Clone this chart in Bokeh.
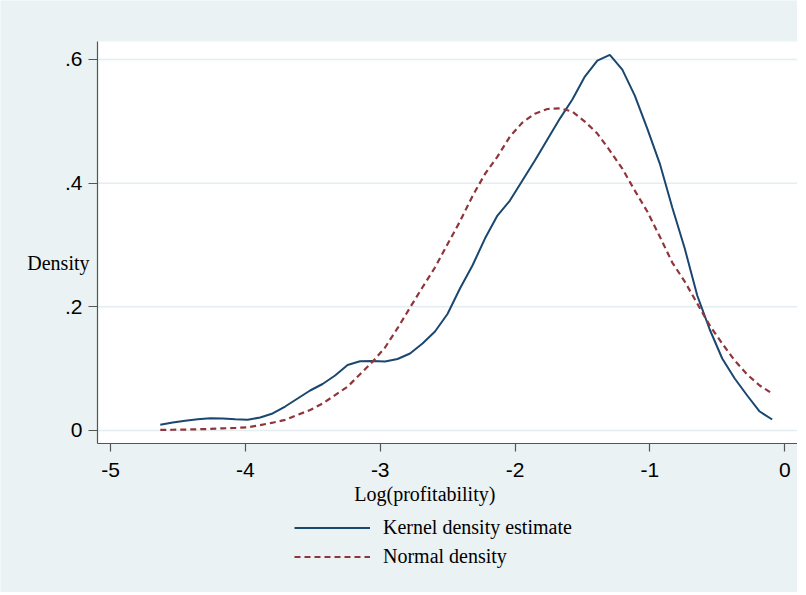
from bokeh.plotting import figure
from bokeh.models import Range1d, Legend, LegendItem, FixedTicker, Label, BoxAnnotation
from bokeh.embed import file_html
from bokeh.resources import INLINE

# Grid of 50 evaluation points (log profitability)
x_start = -4.631
x_step = 0.0926
x_vals = [round(x_start + x_step * i, 4) for i in range(50)]

kernel_density = [
    0.0092, 0.0129, 0.0157, 0.0181, 0.0197, 0.0194, 0.0181, 0.0173, 0.0210, 0.0275,
    0.0388, 0.0517, 0.0647, 0.0752, 0.0889, 0.1059, 0.1120, 0.1124, 0.1116, 0.1156,
    0.1245, 0.1407, 0.1601, 0.1884, 0.2296, 0.2668, 0.3104, 0.3476, 0.3719, 0.4042,
    0.4365, 0.4705, 0.5044, 0.5352, 0.5724, 0.5982, 0.6074, 0.5837, 0.5416, 0.4883,
    0.4317, 0.3606, 0.2943, 0.2183, 0.1633, 0.1164, 0.0841, 0.0566, 0.0307, 0.0178,
]

normal_density = [
    0.0010, 0.0012, 0.0015, 0.0020, 0.0025, 0.0035, 0.0040, 0.0052, 0.0086, 0.0126,
    0.0172, 0.0252, 0.0331, 0.0436, 0.0573, 0.0708, 0.0910, 0.1112, 0.1342, 0.1654,
    0.1987, 0.2317, 0.2636, 0.3013, 0.3382, 0.3790, 0.4148, 0.4430, 0.4753, 0.4980,
    0.5124, 0.5199, 0.5211, 0.5158, 0.4996, 0.4802, 0.4527, 0.4236, 0.3880, 0.3541,
    0.3137, 0.2716, 0.2409, 0.2053, 0.1698, 0.1407, 0.1132, 0.0905, 0.0728, 0.0598,
]

x_ticks = [-5, -4, -3, -2, -1, 0]
x_tick_labels = ["-5", "-4", "-3", "-2", "-1", "0"]
y_ticks = [0, 0.2, 0.4, 0.6]
y_tick_labels = ["0", ".2", ".4", ".6"]

x_title = "Log(profitability)"
y_title = "Density"
series_names = ["Kernel density estimate", "Normal density"]

BG = "#EAF2F3"
NAVY = "#1A476F"
MAROON = "#90353B"
AXIS = "#555555"
GRID = "#E4EDEF"
SANS = "Liberation Sans"
SERIF = "Liberation Serif"

# plot region (white area) in data units
x0, x1 = -5.0964, 0.0942
y0, y1 = -0.0210, 0.6291
# whole canvas in data units (canvas is the frame; axes are placed at fixed locations)
cx0, cx1 = -5.8157, 0.0942
cy0, cy1 = -0.2620, 0.6954

p = figure(width=797, height=592, output_backend="svg", toolbar_location=None,
           x_range=Range1d(cx0, cx1), y_range=Range1d(cy0, cy1),
           min_border=0, min_border_left=0, min_border_right=0,
           min_border_top=0, min_border_bottom=0)
p.background_fill_color = BG
p.border_fill_color = BG
p.outline_line_color = None
p.xgrid.visible = False
p.ygrid.visible = False

# white plot area
p.add_layout(BoxAnnotation(left=x0, right=x1, bottom=y0, top=y1, fill_color="white",
                           fill_alpha=1.0, line_color=None, level="underlay"))

# horizontal gridlines at the y ticks
p.segment(x0=[x0] * len(y_ticks), x1=[x1] * len(y_ticks), y0=y_ticks, y1=y_ticks,
          line_color=GRID, line_width=1.5)

# axes
for ax in (p.xaxis[0], p.yaxis[0]):
    ax.axis_line_color = AXIS
    ax.axis_line_width = 1.2
    ax.major_tick_line_color = AXIS
    ax.major_tick_line_width = 1.2
    ax.major_tick_in = 0
    ax.minor_tick_line_color = None
    ax.major_label_text_font = SANS
    ax.major_label_text_font_size = "21px"
    ax.major_label_text_color = "black"

xax = p.xaxis[0]
xax.fixed_location = y0
xax.bounds = (x0, x1)
xax.ticker = FixedTicker(ticks=x_ticks)
xax.major_label_overrides = dict(zip(x_ticks, x_tick_labels))
xax.major_tick_out = 8
xax.major_label_standoff = 12

yax = p.yaxis[0]
yax.fixed_location = x0
yax.bounds = (y0, y1)
yax.ticker = FixedTicker(ticks=y_ticks)
yax.major_label_overrides = dict(zip(y_ticks, y_tick_labels))
yax.major_tick_out = 9
yax.major_label_standoff = 6
yax.major_label_orientation = "horizontal"

r_k = p.line(x_vals, kernel_density, line_color=NAVY, line_width=2)
r_n = p.line(x_vals, normal_density, line_color=MAROON, line_width=2.2, line_dash="6 4")

# axis titles
p.add_layout(Label(x=x0, y=0.2716, x_offset=-8, text=y_title, text_align="right",
                   text_baseline="middle", text_font=SERIF, text_font_size="20px",
                   text_color="black"))
p.add_layout(Label(x=-2.669, y=-0.1035, text=x_title, text_align="center",
                   text_baseline="middle", text_font=SERIF, text_font_size="20px",
                   text_color="black"))

# series legend
legend = Legend(items=[LegendItem(label=series_names[0], renderers=[r_k]),
                       LegendItem(label=series_names[1], renderers=[r_n])],
                location=(294, 24.5), orientation="vertical",
                glyph_width=76, glyph_height=23, label_height=23,
                label_standoff=13, spacing=6, padding=0, margin=0,
                background_fill_alpha=0, border_line_color=None,
                label_text_font=SERIF, label_text_font_size="20px", label_text_color="black")
p.add_layout(legend, "center")

open("out.html", "w").write(file_html(p, INLINE))
